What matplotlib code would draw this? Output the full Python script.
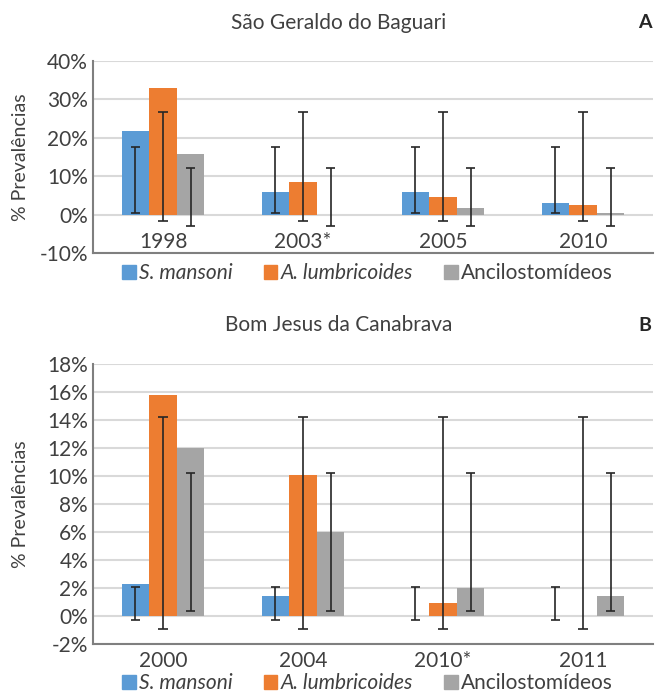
import numpy as np
import matplotlib.pyplot as plt
from matplotlib.patches import Patch

plt.rcParams['font.family'] = ['Lato', 'DejaVu Sans']

series = ['S. mansoni', 'A. lumbricoides', 'Ancilostomídeos']
colors = ['#5B9BD5', '#ED7D31', '#A5A5A5']

# Panel A - São Geraldo do Baguari
years_a = ['1998', '2003*', '2005', '2010']
sm_a = [21.7, 6.0, 5.8, 2.9]
al_a = [32.9, 8.6, 4.5, 2.4]
anc_a = [15.7, 0.0, 1.6, 0.5]
err_lo_a = [0.5, -1.8, -3.1]
err_hi_a = [17.7, 26.7, 12.2]

# Panel B - Bom Jesus da Canabrava
years_b = ['2000', '2004', '2010*', '2011']
sm_b = [2.3, 1.4, 0.0, 0.0]
al_b = [15.8, 10.1, 0.9, 0.0]
anc_b = [12.0, 6.0, 2.0, 1.4]
err_lo_b = [-0.25, -0.9, 0.35]
err_hi_b = [2.1, 14.25, 10.2]

TXT = '#404040'


def draw_panel(ax, years, vals, lo, hi, ylim, step, fmt):
    x = np.arange(len(years))
    w = 0.197
    for i, v in enumerate(vals):
        xi = x + (i - 1) * w
        ax.bar(xi, v, width=w, color=colors[i], zorder=2)
        ax.vlines(xi, lo[i], hi[i], color='#262626', lw=1.2, zorder=3)
        ax.hlines([lo[i]] * len(xi), xi - 0.035, xi + 0.035, color='#262626', lw=1.2, zorder=3)
        ax.hlines([hi[i]] * len(xi), xi - 0.035, xi + 0.035, color='#262626', lw=1.2, zorder=3)
    ax.set_xlim(-0.5, len(years) - 0.5)
    ax.set_ylim(*ylim)
    ticks = np.arange(ylim[0], ylim[1] + step / 2, step)
    ax.set_yticks(ticks)
    ax.set_yticklabels([fmt % t for t in ticks])
    ax.set_xticks(x)
    ax.set_xticklabels(years)
    ax.yaxis.grid(True, color='#D9D9D9', lw=1.5, zorder=0)
    ax.set_axisbelow(True)
    for s in ['top', 'right']:
        ax.spines[s].set_visible(False)
    for s in ['left', 'bottom']:
        ax.spines[s].set_color('#7F7F7F')
        ax.spines[s].set_linewidth(1.5)
    ax.tick_params(length=0, labelsize=15, colors=TXT)
    ax.set_ylabel('% Prevalências', fontsize=14, color=TXT)


fig = plt.figure(figsize=(6.67, 6.93), dpi=100)
ax1 = fig.add_axes([0.1394, 0.635, 0.8396, 0.277])
ax2 = fig.add_axes([0.1394, 0.0707, 0.8396, 0.404])

draw_panel(ax1, years_a, [sm_a, al_a, anc_a], err_lo_a, err_hi_a, (-10, 40), 10, '%d%%')
ax1.tick_params(axis='x', pad=-15)
ax1.yaxis.set_label_coords(-0.115, 0.5)

draw_panel(ax2, years_b, [sm_b, al_b, anc_b], err_lo_b, err_hi_b, (-2, 18), 2, '%d%%')
ax2.tick_params(axis='x', pad=5)
ax2.yaxis.set_label_coords(-0.115, 0.5)

fig.text(0.508, 0.967, 'São Geraldo do Baguari', ha='center', va='center', fontsize=15, color=TXT)
fig.text(0.967, 0.967, 'A', ha='center', va='center', fontsize=14, fontweight='bold', color='#262626')
fig.text(0.508, 0.531, 'Bom Jesus da Canabrava', ha='center', va='center', fontsize=15, color=TXT)
fig.text(0.967, 0.531, 'B', ha='center', va='center', fontsize=14, fontweight='bold', color='#262626')

for ax, ypos in [(ax1, -0.105), (ax2, -0.14)]:
    handles = [Patch(color=c, label=s) for c, s in zip(colors, series)]
    leg = ax.legend(handles=handles, loc='center', bbox_to_anchor=(0.49, ypos), ncol=3,
                    frameon=False, fontsize=15, handlelength=0.65, handleheight=0.65,
                    handletextpad=0.15, columnspacing=1.5, labelcolor=TXT)
    leg.get_texts()[0].set_style('italic')
    leg.get_texts()[1].set_style('italic')

fig.savefig('out.png', dpi=100)
